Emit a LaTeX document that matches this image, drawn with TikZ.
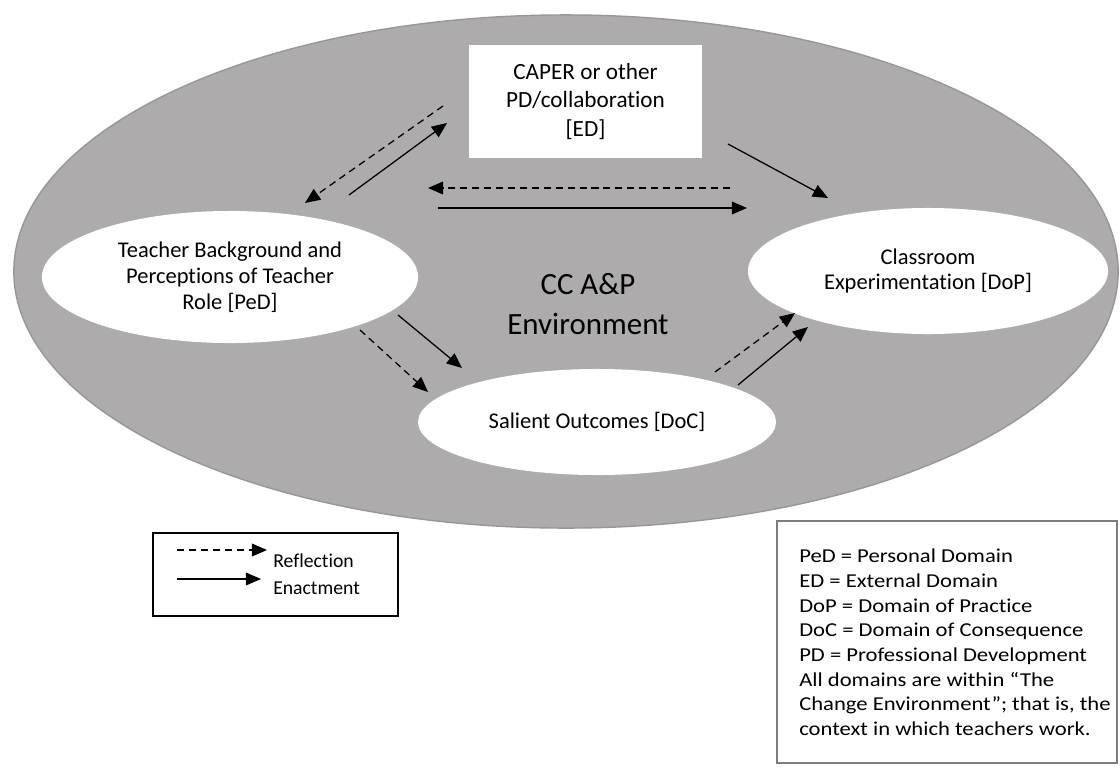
\documentclass[tikz,border=0pt]{standalone}
\usepackage{fontspec}
\setmainfont{Carlito}[Ligatures=NoCommon]
\newfontfamily\notesfont{Carlito}[FakeStretch=1.15,Ligatures=NoCommon]
\usetikzlibrary{shapes.geometric,arrows.meta}
\definecolor{envgray}{RGB}{173,171,171}
\definecolor{envedge}{RGB}{152,150,150}
\definecolor{notesedge}{RGB}{125,125,125}
\begin{document}
\begin{tikzpicture}[x=0.025cm,y=-0.025cm,
  dom/.style={ellipse, fill=white, inner sep=0pt, align=center, font=\fontsize{16}{18.4}\selectfont},
  flow/.style={line width=0.9pt, -{Triangle[length=3.8mm,width=3.2mm]}},
  refl/.style={flow, dash pattern=on 5pt off 3.5pt},
]
\useasboundingbox (0,0) rectangle (1120,777);
\fill[white] (0,0) rectangle (1120,777);

% environment
\node[ellipse, fill=envgray, draw=envedge, line width=1pt, minimum width=27.6cm, minimum height=12.825cm, inner sep=0pt] (env) at (566,271.5) {};

% domains
\node[dom, minimum width=9.4cm, minimum height=3.3cm] (ped) at (230,277) {Teacher Background and\\Perceptions of Teacher\\Role [PeD]};
\node[dom, minimum width=9.0cm, minimum height=3.15cm] (dop) at (928,271) {Classroom\\Experimentation [DoP]};
\node[dom, minimum width=8.95cm, minimum height=2.65cm] (doc) at (597,422) {Salient Outcomes [DoC]};
\node[rectangle, fill=white, minimum width=5.825cm, minimum height=2.825cm, inner sep=0pt, align=center, font=\fontsize{16.5}{20.5}\selectfont] (ed) at (585.5,101.5) {CAPER or other\\PD/collaboration\\{}[ED]};

\node[align=center, inner sep=0pt, font=\fontsize{22}{28.5}\selectfont] (title) at (588,304) {CC A\&P\\Environment};

% connector end points
\coordinate (r1s) at (443,106); \coordinate (r1e) at (305,203);
\coordinate (e1s) at (349,195); \coordinate (e1e) at (447,123);
\coordinate (r2s) at (730,188); \coordinate (r2e) at (428,188);
\coordinate (e2s) at (438,208); \coordinate (e2e) at (747,208);
\coordinate (e3s) at (728,144); \coordinate (e3e) at (828,198);
\coordinate (e4s) at (398,315); \coordinate (e4e) at (462,368);
\coordinate (r4s) at (360,330); \coordinate (r4e) at (428,392);
\coordinate (r5s) at (715,372); \coordinate (r5e) at (795,313);
\coordinate (e5s) at (738,385); \coordinate (e5e) at (808,327);

\draw[refl] (r1s) -- (r1e);
\draw[flow] (e1s) -- (e1e);
\draw[refl] (r2s) -- (r2e);
\draw[flow] (e2s) -- (e2e);
\draw[flow] (e3s) -- (e3e);
\draw[flow] (e4s) -- (e4e);
\draw[refl] (r4s) -- (r4e);
\draw[refl] (r5s) -- (r5e);
\draw[flow] (e5s) -- (e5e);

% legend
\node[draw=black, line width=1.4pt, minimum width=6.125cm, minimum height=2.075cm, inner sep=0pt] (legend) at (275.5,574.5) {};
\coordinate (lr1) at (177,550); \coordinate (lr2) at (267,550);
\coordinate (le1) at (177,579); \coordinate (le2) at (261,579);
\draw[refl] (lr1) -- (lr2);
\draw[flow] (le1) -- (le2);
\node[anchor=base west, inner sep=0pt, font=\fontsize{14}{16}\selectfont] (lrt) at (273,567) {Reflection};
\node[anchor=base west, inner sep=0pt, font=\fontsize{14}{16}\selectfont] (let) at (273,594) {Enactment};

% notes
\node[draw=notesedge, line width=1pt, minimum width=8.5cm, minimum height=6.05cm, inner sep=0pt] (notes) at (947,642) {};
\node[anchor=north west, inner sep=0pt, align=left, font=\notesfont\fontsize{14}{17.5}\selectfont] (notestext) at (799,549) {PeD = Personal Domain\\ED = External Domain\\DoP = Domain of Practice\\DoC = Domain of Consequence\\PD = Professional Development\\All domains are within “The\\Change Environment”; that is, the\\context in which teachers work.};
\end{tikzpicture}
\end{document}
